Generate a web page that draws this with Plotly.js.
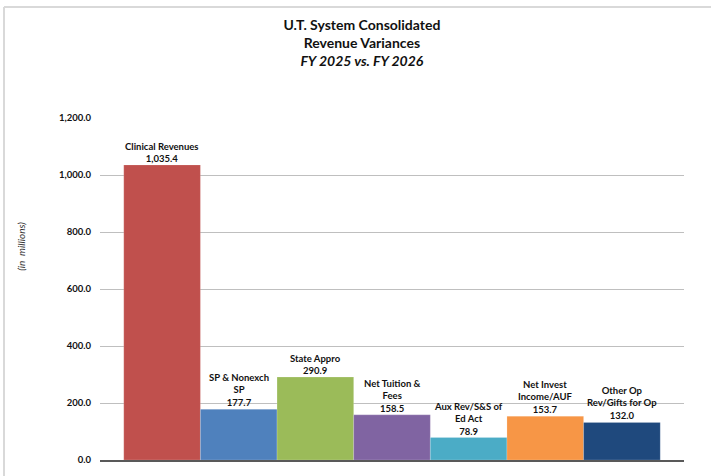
<!DOCTYPE html>
<html>
<head>
<meta charset="utf-8">
<script src="https://cdn.plot.ly/plotly-3.0.1.min.js"></script>
<style>html,body{margin:0;padding:0;background:#fff;}#chart{width:711px;height:476px;}</style>
</head>
<body>
<div id="chart"></div>
<script>
// Data
const categories = ["Clinical Revenues", "SP & Nonexch SP", "State Appro", "Net Tuition & Fees", "Aux Rev/S&S of Ed Act", "Net Invest Income/AUF", "Other Op Rev/Gifts for Op"];
const barLabels = ["Clinical Revenues", "SP & Nonexch<br>SP", "State Appro", "Net Tuition &<br>Fees", "Aux Rev/S&S of<br>Ed Act", "Net Invest<br>Income/AUF", "Other Op<br>Rev/Gifts for Op"];
const values = [1035.4, 177.7, 290.9, 158.5, 78.9, 153.7, 132.0];
const yTickVals = [0, 200, 400, 600, 800, 1000, 1200];
const yTickText = ["0.0", "200.0", "400.0", "600.0", "800.0", "1,000.0", "1,200.0"];

// Styles
const barColors = ["#c0504d", "#4f81bd", "#9bbb59", "#8064a2", "#4bacc6", "#f79646", "#1f497d"];
const FONT = "Lato, 'Open Sans', sans-serif";

function fmt(v) {
  return v.toLocaleString("en-US", {minimumFractionDigits: 1, maximumFractionDigits: 1});
}

const trace = {
  type: "bar",
  x: categories,
  y: values,
  marker: {color: barColors, line: {color: "rgba(255,255,255,0.35)", width: 0.5}},
  hoverinfo: "none"
};

const annotations = categories.map((c, i) => ({
  x: c, y: values[i], xref: "x", yref: "y",
  text: "<b>" + barLabels[i] + "<br>" + fmt(values[i]) + "</b>",
  showarrow: false, yanchor: "bottom", xanchor: "center", yshift: -1,
  font: {family: FONT, size: 9.5, color: "#111"}, align: "center"
}));

annotations.push({
  xref: "paper", yref: "paper", x: -0.148, y: 0.625,
  text: "<i>(in  millions)</i>", textangle: -90, showarrow: false,
  font: {family: FONT, size: 10, color: "#333"}
});

const layout = {
  width: 711, height: 476,
  margin: {l: 100, r: 27, t: 118, b: 16},
  paper_bgcolor: "#fff", plot_bgcolor: "#fff",
  showlegend: false,
  bargap: 0,
  title: {
    text: "<b>U.T. System Consolidated</b><br><b>Revenue Variances</b><br><b><i>FY 2025 vs. FY 2026</i></b>",
    xref: "container", yref: "container", x: 0.509, y: 0.937, xanchor: "center", yanchor: "top",
    font: {family: FONT, size: 14, color: "#111"}
  },
  xaxis: {
    type: "category", range: [-0.81, 6.81], showticklabels: false, ticks: "",
    showgrid: false, showline: true, linecolor: "#595959", linewidth: 1.5, zeroline: false, fixedrange: true
  },
  yaxis: {
    range: [0, 1200], tickvals: yTickVals, ticktext: yTickText.map(t => "<b>" + t + "</b>"),
    showgrid: true, gridcolor: "#bfbfbf", gridwidth: 1,
    zeroline: false, showline: false, ticks: "", ticklabelstandoff: 8,
    tickfont: {family: FONT, size: 9.5, color: "#111"}, fixedrange: true
  },
  annotations: annotations,
  shapes: [
    {type: "line", xref: "paper", yref: "paper", x0: -0.1644, x1: -0.1644, y0: 1.3246, y1: -0.1, line: {color: "#d9d9d9", width: 2}},
    {type: "line", xref: "paper", yref: "paper", x0: -0.1644, x1: 1.1, y0: 1.3246, y1: 1.3246, line: {color: "#d9d9d9", width: 2}}
  ]
};

Plotly.newPlot("chart", [trace], layout, {displayModeBar: false, staticPlot: true});
</script>
</body>
</html>
